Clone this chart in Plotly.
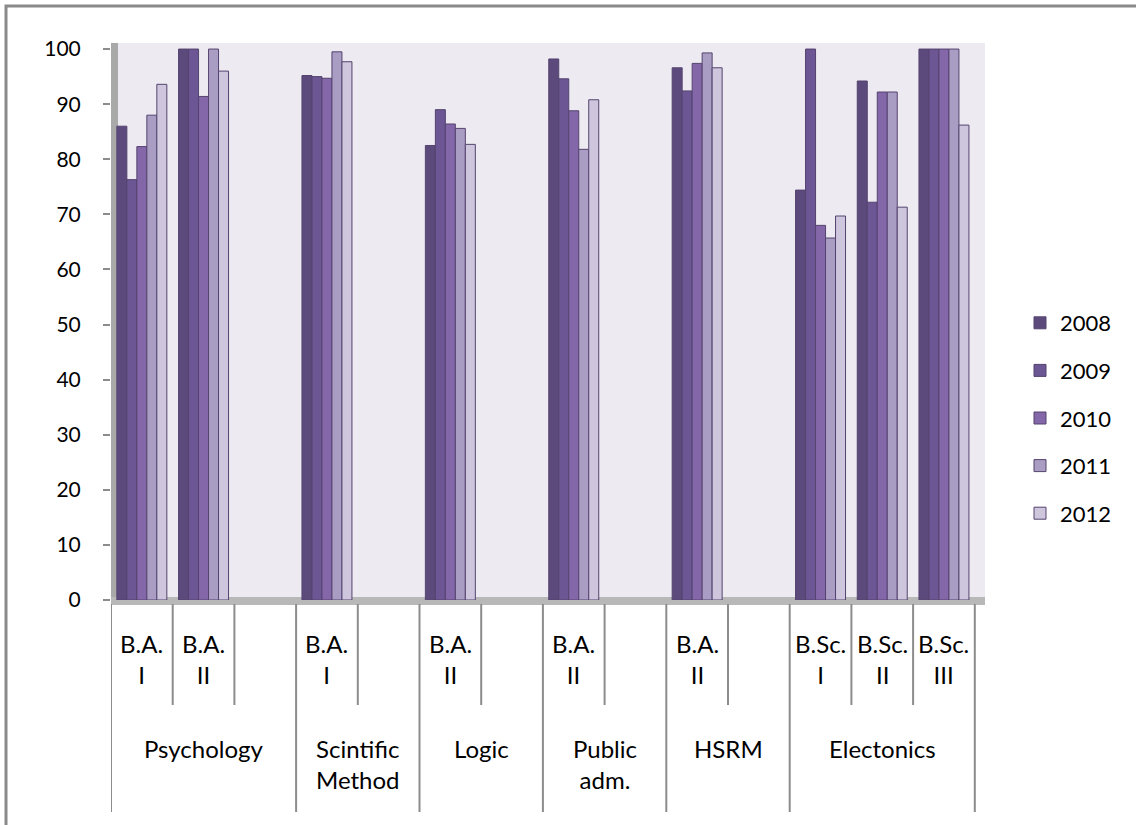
import plotly.graph_objects as go

# ---- data ----
groups = ["Psychology", "Psychology", "Psychology",
          "Scintific<br>Method", "Scintific<br>Method",
          "Logic", "Logic",
          "Public<br>adm.", "Public<br>adm.",
          "HSRM", "HSRM",
          "Electonics", "Electonics", "Electonics"]
levels = ["B.A.<br>I", "B.A.<br>II", "",
          "B.A.<br>I", "",
          "B.A.<br>II", "",
          "B.A.<br>II", "",
          "B.A.<br>II", "",
          "B.Sc.<br>I", "B.Sc.<br>II", "B.Sc.<br>III"]
years = ["2008", "2009", "2010", "2011", "2012"]
y2008 = [86.0, 100, None, 95.2, None, 82.5, None, 98.2, None, 96.6, None, 74.4, 94.2, 100]
y2009 = [76.3, 100, None, 95.0, None, 89.0, None, 94.6, None, 92.4, None, 100, 72.2, 100]
y2010 = [82.3, 91.4, None, 94.7, None, 86.4, None, 88.8, None, 97.4, None, 68.0, 92.2, 100]
y2011 = [88.0, 100, None, 99.5, None, 85.6, None, 81.8, None, 99.3, None, 65.7, 92.2, 100]
y2012 = [93.6, 96.0, None, 97.7, None, 82.7, None, 90.8, None, 96.6, None, 69.7, 71.3, 86.2]
series = [y2008, y2009, y2010, y2011, y2012]
colors = ["#5c4a7d", "#6c5693", "#8467a9", "#aa9dc3", "#cdc6dd"]
yticks = list(range(0, 101, 10))

FONT = "Lato"
W, H = 1136, 825
L, R, T, B = 111, 151, 43, 225
PW, PH = W - L - R, H - T - B

def px_x(p):
    return (p - L) / PW

def px_y(p):
    return (H - B - p) / PH

idx = list(range(len(levels)))
fig = go.Figure()
for name, vals, col in zip(years, series, colors):
    fig.add_trace(go.Bar(
        x=idx, y=vals, name=name, legendgroup=name,
        marker=dict(color=col, line=dict(color="#54436f", width=1)),
    ))

shapes = []
annotations = []
n = len(levels)
group_bounds = set()
for k in range(n + 1):
    if k == 0 or k == n or groups[k] != groups[k - 1]:
        group_bounds.add(k)
for k in range(n + 1):
    is_group = k in group_bounds
    shapes.append(dict(
        type="line", xref="x", yref="paper",
        x0=k - 0.5, x1=k - 0.5, y0=px_y(604),
        y1=px_y(812) if is_group else px_y(705),
        line=dict(color="#8c8c8c", width=2), layer="above"))

for k, lab in enumerate(levels):
    if lab:
        annotations.append(dict(
            x=k, y=px_y(627), xref="x", yref="paper", text=lab,
            showarrow=False, yanchor="top", xanchor="center",
            font=dict(family=FONT, size=24, color="#000000")))
start = 0
for k in range(1, n + 1):
    if k == n or groups[k] != groups[start]:
        annotations.append(dict(
            x=(start + k - 1) / 2, y=px_y(732), xref="x", yref="paper",
            text=groups[start], showarrow=False, yanchor="top",
            xanchor="center",
            font=dict(family=FONT, size=24, color="#000000")))
        start = k

# left wall & floor (3D look)
shapes.append(dict(type="rect", xref="paper", yref="paper",
                   x0=0, x1=px_x(118), y0=px_y(605), y1=1,
                   fillcolor="#a9a9a9", line=dict(width=0), layer="below"))
shapes.append(dict(type="rect", xref="paper", yref="paper",
                   x0=0, x1=1, y0=px_y(605), y1=px_y(597),
                   fillcolor="#b8b8b8", line=dict(width=0), layer="below"))
# outer chart border
shapes.append(dict(type="rect", xref="paper", yref="paper",
                   x0=px_x(6), x1=px_x(1145), y0=px_y(835), y1=px_y(6),
                   line=dict(color="#8a8a8a", width=3), fillcolor="rgba(0,0,0,0)",
                   layer="above"))

fig.update_layout(
    width=W, height=H,
    margin=dict(l=L, r=R, t=T, b=B, pad=0),
    paper_bgcolor="#ffffff", plot_bgcolor="#edebf1",
    barmode="group", bargap=0.19, bargroupgap=0,
    font=dict(family=FONT, size=22, color="#000000"),
    showlegend=True,
    legend=dict(x=px_x(1020), xanchor="left", y=px_y(418), yanchor="middle",
                font=dict(family=FONT, size=22), tracegroupgap=16,
                traceorder="grouped", bgcolor="rgba(0,0,0,0)"),
    xaxis=dict(range=[-0.5, -0.5 + PW / 61.7], showticklabels=False,
               showgrid=False, zeroline=False, ticks="", showline=False,
               fixedrange=True),
    yaxis=dict(range=[0, 101.1], tickvals=yticks, ticktext=[str(v) for v in yticks],
               showgrid=False, zeroline=False, showline=False,
               ticks="outside", ticklen=7, tickwidth=2, tickcolor="#8c8c8c",
               ticklabelstandoff=18,
               tickfont=dict(family=FONT, size=21, color="#000000")),
    shapes=shapes, annotations=annotations,
)

fig.write_html("out.html", config={"displayModeBar": False},
               post_script="document.body.style.margin='0';document.body.style.padding='0';")
